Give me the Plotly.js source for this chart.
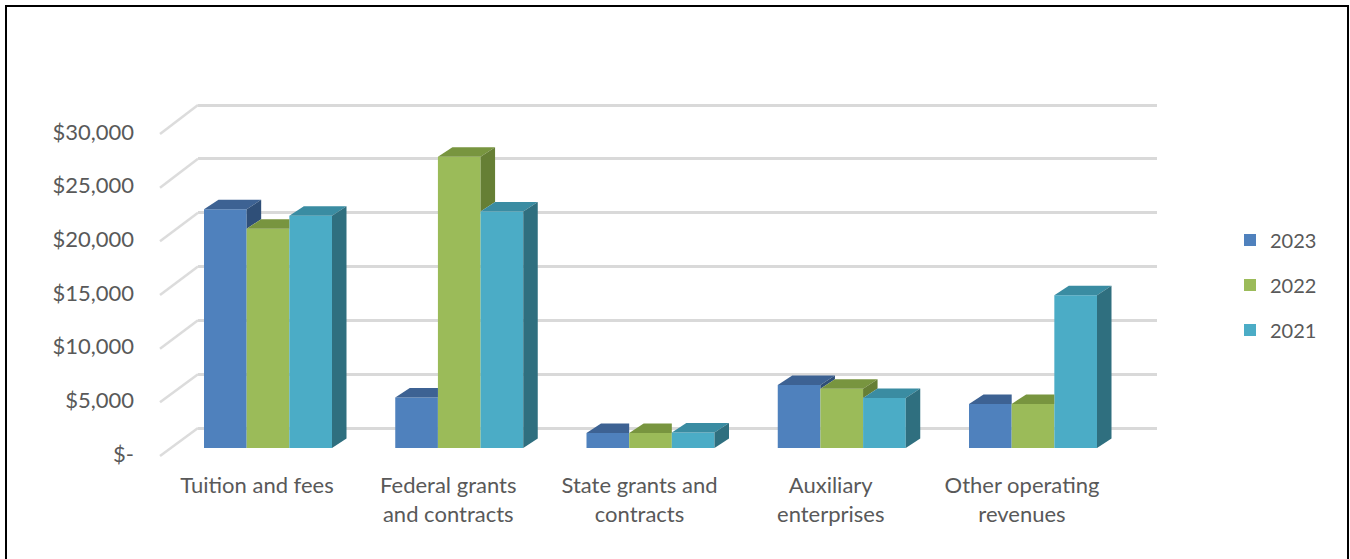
<!DOCTYPE html>
<html>
<head>
<meta charset="utf-8">
<script src="https://cdn.plot.ly/plotly-3.0.1.min.js"></script>
<style>
  html, body { margin: 0; padding: 0; background: #fff; }
  #wrap { position: relative; width: 1350px; height: 559px; overflow: hidden; }
  #chart { position: absolute; left: 0; top: 0; width: 1350px; height: 559px; }
  #frame { position: absolute; left: 5px; top: 5px; width: 1344px; height: 620px; box-sizing: border-box; border: 2px solid #000; pointer-events: none; }
</style>
</head>
<body>
<div id="wrap"><div id="chart"></div><div id="frame"></div></div>
<script>
// ---- data ----
const categories = ["Tuition and fees", "Federal grants<br>and contracts", "State grants and<br>contracts", "Auxiliary<br>enterprises", "Other operating<br>revenues"];
const years = ["2023", "2022", "2021"];
const values2023 = [22200, 4700, 1400, 5850, 4100];
const values2022 = [20400, 27100, 1400, 5500, 4100];
const values2021 = [21600, 22000, 1450, 4650, 14200];
const yTickVals = [0, 5000, 10000, 15000, 20000, 25000, 30000];
const yTickText = ["$-", "$5,000", "$10,000", "$15,000", "$20,000", "$25,000", "$30,000"];

// ---- styling ----
const series = [values2023, values2022, values2021];
const frontColors = ["#4f81bd", "#9bbb59", "#4bacc6"];
const topColors = ["#3d6293", "#78953f", "#3a8ca2"];
const sideColors = ["#2f4f78", "#667f35", "#2f6f7f"];
const FW = 1350, FH = 559;
const plotL = 198, plotR = 1157, plotT = 90, plotB = 460;
const catX0 = 268, catStep = 191.25;
const xr = [(plotL - catX0) / catStep, (plotR - catX0) / catStep];
const barPxPer1000 = 10.75, barZeroPx = 448;
const yr = [(barZeroPx - plotB) / barPxPer1000 * 1000, (barZeroPx - plotT) / barPxPer1000 * 1000];
const lblPxPer1000 = 10.7333, lblZeroPx = 454;
const y2r = [(lblZeroPx - plotB) / lblPxPer1000 * 1000, (lblZeroPx - plotT) / lblPxPer1000 * 1000];
const grdPxPer1000 = 10.7667, grdZeroPx = 428;
const y3r = [(grdZeroPx - plotB) / grdPxPer1000 * 1000, (grdZeroPx - plotT) / grdPxPer1000 * 1000];

const W = 128 / 3 / catStep;
const dxU = 14.5 / catStep;
const dyU = 9.5 / barPxPer1000 * 1000;

const font = "Lato, 'Liberation Sans', Arial, sans-serif";
const textColor = "#595959";
const xs = categories.map((c, i) => i);

const traces = [];
years.forEach((yr_, k) => {
  traces.push({
    type: "bar", name: yr_, x: xs, y: series[k],
    width: W, offset: -1.5 * W + k * W,
    marker: { color: frontColors[k], line: { width: 0 } },
    legendgroup: "g" + yr_, hoverinfo: "y+name"
  });
});

function poly(pts, color) {
  return {
    type: "scatter", mode: "lines", fill: "toself", fillcolor: color,
    x: pts.map(p => p[0]).concat([pts[0][0]]),
    y: pts.map(p => p[1]).concat([pts[0][1]]),
    line: { width: 0, color: color }, showlegend: false, hoverinfo: "skip"
  };
}

xs.forEach(i => {
  for (let k = 0; k < 3; k++) {
    const v = series[k][i];
    const x0 = i - 1.5 * W + k * W, x1 = x0 + W;
    const hasNext = k < 2;
    const vn = hasNext ? series[k + 1][i] : null;
    if (hasNext && vn >= v) {
      traces.push(poly([[x0, v], [x1, v], [x1, v + dyU], [x0 + dxU, v + dyU]], topColors[k]));
    } else {
      traces.push(poly([[x0, v], [x1, v], [x1 + dxU, v + dyU], [x0 + dxU, v + dyU]], topColors[k]));
    }
    if (!hasNext) {
      traces.push(poly([[x1, 0], [x1, v], [x1 + dxU, v + dyU], [x1 + dxU, dyU]], sideColors[k]));
    } else if (vn < v) {
      traces.push(poly([[x1, vn], [x1, v], [x1 + dxU, v + dyU], [x1 + dxU, vn + dyU]], sideColors[k]));
    }
  }
});

const shapes = yTickVals.map(v => {
  const frontPx = lblZeroPx - lblPxPer1000 * v / 1000 + 2;
  const frontInGrid = (grdZeroPx - frontPx) / grdPxPer1000 * 1000;
  return {
    type: "line", xref: "paper", yref: "y3",
    x0: 160 / FW, y0: frontInGrid, x1: plotL / FW, y1: v,
    line: { color: "#dcdcdc", width: 2.5 }
  };
});

const ydom = [(FH - plotB) / FH, (FH - plotT) / FH];
const layout = {
  width: FW, height: FH,
  margin: { l: 0, r: 0, t: 0, b: 0 },
  paper_bgcolor: "#ffffff", plot_bgcolor: "rgba(0,0,0,0)",
  font: { family: font, size: 22, color: textColor },
  showlegend: true,
  barmode: "overlay",
  xaxis: {
    domain: [plotL / FW, plotR / FW], range: xr, type: "linear",
    tickvals: xs, ticktext: categories, showgrid: false, zeroline: false,
    showline: false, ticks: "", ticklabelshift: -11, ticklabelstandoff: 10,
    tickfont: { family: font, size: 22, color: textColor }, fixedrange: true
  },
  yaxis: {
    domain: ydom, range: yr, showgrid: false, zeroline: false,
    showticklabels: false, ticks: "", showline: false, fixedrange: true
  },
  yaxis2: {
    domain: ydom, range: y2r, overlaying: "y", anchor: "free", position: 134 / FW, side: "left",
    tickvals: yTickVals, ticktext: yTickText, showgrid: false, zeroline: false,
    ticks: "", showline: false, tickfont: { family: font, size: 22, color: textColor }, fixedrange: true
  },
  yaxis3: {
    domain: ydom, range: y3r, overlaying: "y", anchor: "x", side: "left",
    tickvals: yTickVals, showticklabels: false, showgrid: true,
    gridcolor: "#d9d9d9", gridwidth: 3, zeroline: false, ticks: "", showline: false, fixedrange: true
  },
  legend: {
    x: 1230 / FW, xanchor: "left", y: (FH - 285) / FH, yanchor: "middle",
    font: { family: font, size: 20, color: textColor },
    traceorder: "grouped", tracegroupgap: 16, bgcolor: "rgba(0,0,0,0)"
  },
  shapes: shapes
};

traces.push({ type: "scatter", x: [0], y: [0], yaxis: "y2", mode: "markers", marker: { opacity: 0 }, showlegend: false, hoverinfo: "skip" });
traces.push({ type: "scatter", x: [0], y: [0], yaxis: "y3", mode: "markers", marker: { opacity: 0 }, showlegend: false, hoverinfo: "skip" });

Plotly.newPlot("chart", traces, layout, { displayModeBar: false, staticPlot: true });
</script>
</body>
</html>
